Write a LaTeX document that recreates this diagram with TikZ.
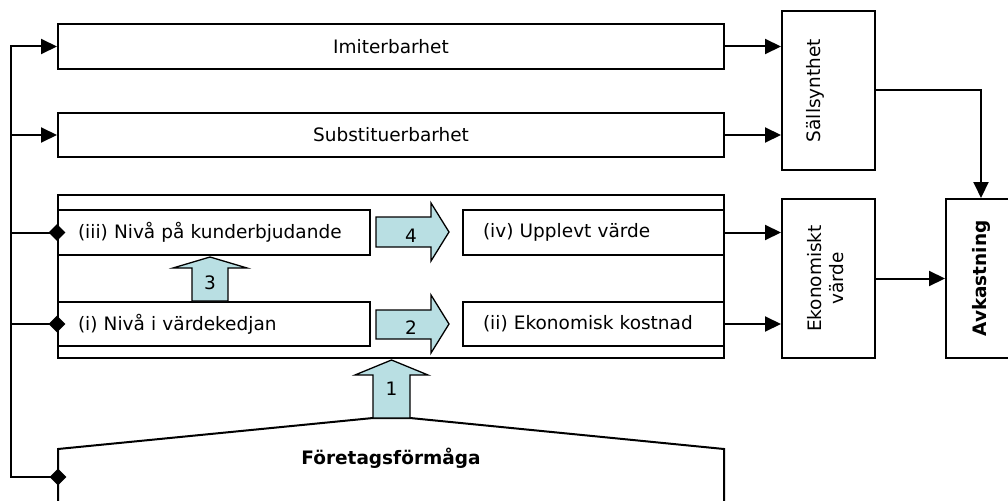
\documentclass[tikz,border=0pt]{standalone}
\usepackage{fontspec}
\setmainfont{DejaVu Sans}
\usetikzlibrary{arrows.meta,shapes.geometric}
\definecolor{arrowfill}{HTML}{B9DFE3}
\begin{document}
\begin{tikzpicture}[x=1pt,y=-1pt,
  txt/.style={font=\fontsize{18.5}{22}\selectfont},
  box/.style={draw,line width=2pt,inner sep=0pt,txt},
  lbox/.style={box,align=left,inner xsep=20pt,minimum height=45pt},
  arr/.style={line width=2pt,-{Triangle[length=16pt,width=15pt]}},
  conn/.style={line width=2pt},
  dia/.style={diamond,fill,inner sep=0pt,minimum size=17pt},
  blockarrow/.style={draw,line width=1.3pt,fill=arrowfill,line join=miter},
  num/.style={txt,inner sep=0pt}
]
\useasboundingbox (0,0) rectangle (1008,500);

% main boxes
\node[box,minimum width=666pt,minimum height=45pt] (imit) at (391,46.5) {Imiterbarhet};
\node[box,minimum width=666pt,minimum height=44pt] (subst) at (391,135) {Substituerbarhet};
\node[box,minimum width=666pt,minimum height=163pt] (cont) at (391,276.5) {};
\node[lbox,text width=272pt] (iii) at (214,232.5) {(iii) Nivå på kunderbjudande};
\node[lbox,text width=221pt] (iv) at (593.5,232.5) {(iv) Upplevt värde};
\node[lbox,text width=272pt,minimum height=44pt] (i) at (214,324) {(i) Nivå i värdekedjan};
\node[lbox,text width=221pt,minimum height=44pt] (ii) at (593.5,324) {(ii) Ekonomisk kostnad};

% right boxes
\node[box,minimum width=93pt,minimum height=159pt] (sall) at (828.5,90.5) {};
\node[txt,rotate=90,inner sep=0pt] (sallt) at (815,90.5) {Sällsynthet};
\node[box,minimum width=93pt,minimum height=159pt] (ek) at (828.5,278.5) {};
\node[txt,rotate=90,align=center,inner sep=0pt] (ekt) at (826,278.5) {Ekonomiskt\\värde};
\node[box,minimum width=70pt,minimum height=159pt] (avk) at (981,278.5) {};
\node[txt,rotate=90,inner sep=0pt,font=\fontsize{18.5}{22}\selectfont\bfseries] (avkt) at (981,278.5) {Avkastning};

% Foretagsformaga shape
\draw[line width=2pt,line join=miter] (58,510) -- (58,449) -- (373,418) -- (410,418) -- (724,449) -- (724,510);
\node[txt,font=\fontsize{18.5}{22}\selectfont\bfseries] (F) at (391,458) {Företagsförmåga};
\coordinate (Fl) at (58,477);

% left bus
\coordinate (bus) at (11,46.5);
\draw[arr] (Fl) -| (bus) -- (imit.west);
\draw[arr] (bus |- subst.west) -- (subst.west);
\draw[conn] (bus |- iii.west) -- (iii.west);
\draw[conn] (bus |- i.west) -- (i.west);
\node[dia] (d1) at (iii.west) {};
\node[dia] (d2) at (i.west) {};
\node[dia] (d3) at (Fl) {};

% right connectors
\draw[arr] (imit.east) -- (imit.east -| sall.west);
\draw[arr] (subst.east) -- (subst.east -| sall.west);
\draw[arr] (iv.east) -- (iv.east -| ek.west);
\draw[arr] (ii.east) -- (ii.east -| ek.west);
\draw[arr] (sall.east) -| (avk.north);
\draw[arr] (ek.east) -- (avk.west);

% block arrows
\draw[blockarrow] (376,217) -- (431,217) -- (431,203) -- (449,232) -- (431,261) -- (431,247) -- (376,247) -- cycle;
\node[num] (n4) at (411,236) {4};
\draw[blockarrow] (376,310) -- (431,310) -- (431,295) -- (449,324) -- (431,353) -- (431,339) -- (376,339) -- cycle;
\node[num] (n2) at (411,328) {2};
\draw[blockarrow] (192,301) -- (192,268) -- (173,268) -- (210,257) -- (247,268) -- (228,268) -- (228,301) -- cycle;
\node[num] (n3) at (210,283) {3};
\draw[blockarrow] (373,418) -- (373,375) -- (355,375) -- (391.5,360) -- (428,375) -- (410,375) -- (410,418) -- cycle;
\node[num] (n1) at (391.5,389) {1};
\end{tikzpicture}
\end{document}
